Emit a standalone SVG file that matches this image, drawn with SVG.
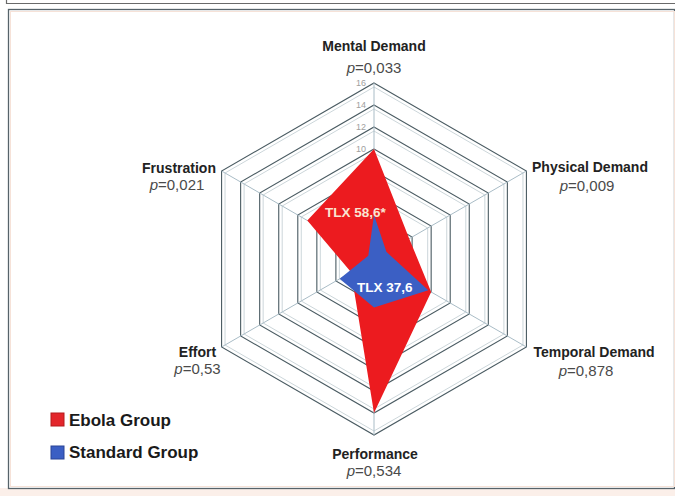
<svg xmlns="http://www.w3.org/2000/svg" width="675" height="496" viewBox="0 0 675 496">
<style>
.ring{fill:none;stroke:#4a5b62;stroke-width:1.1}
.ring2{fill:none;stroke:#ccd6da;stroke-width:1}
.spoke{stroke:#a9bcc6;stroke-width:1}
.lbl{font-family:"Liberation Sans",Arial,sans-serif;font-weight:bold;font-size:14px;fill:#222;text-anchor:middle}
.pv{font-family:"Liberation Sans",Arial,sans-serif;font-size:15px;fill:#4a4a4a;text-anchor:middle}
.tick{font-family:"Liberation Sans",Arial,sans-serif;font-size:9px;fill:#a0a0a0;text-anchor:end}
.leg{font-family:"Liberation Sans",Arial,sans-serif;font-weight:bold;font-size:17px;fill:#1a1a1a}
.tlx{font-family:"Liberation Sans",Arial,sans-serif;font-weight:bold;font-size:13.5px}
</style>
<rect x="0" y="0" width="675" height="496" fill="#ffffff"/>
<rect x="0" y="488" width="675" height="8" fill="#fbefe9"/>
<path d="M6.5,0 V3.5 H675" fill="none" stroke="#6a6a6a" stroke-width="1.2"/>
<rect x="8.5" y="9.5" width="666" height="479" fill="#ffffff" stroke="#56636a" stroke-width="1.3"/>
<rect x="10.5" y="11.5" width="664" height="475" fill="none" stroke="#f6e2d8" stroke-width="1"/>

<g id="grid">
<polygon class="ring2" points="374,87 522.96,173 522.96,345 374,431 225.04,345 225.04,173"/>
<polygon class="ring2" points="374,109 503.9,184 503.9,334 374,409 244.1,334 244.1,184"/>
<polygon class="ring2" points="374,131 484.85,195 484.85,323 374,387 263.15,323 263.15,195"/>
<polygon class="ring2" points="374,153 465.8,206 465.8,312 374,365 282.2,312 282.2,206"/>
<polygon class="ring2" points="374,175 446.74,217 446.74,301 374,343 301.26,301 301.26,217"/>
<polygon class="ring2" points="374,197 427.69,228 427.69,290 374,321 320.31,290 320.31,228"/>
<polygon class="ring2" points="374,219 408.64,239 408.64,279 374,299 339.36,279 339.36,239"/>
<polygon class="ring2" points="374,241 389.59,250 389.59,268 374,277 358.41,268 358.41,250"/>
<polygon class="ring" points="374,83 526.42,171 526.42,347 374,435 221.58,347 221.58,171"/>
<polygon class="ring" points="374,105 507.37,182 507.37,336 374,413 240.63,336 240.63,182"/>
<polygon class="ring" points="374,127 488.32,193 488.32,325 374,391 259.68,325 259.68,193"/>
<polygon class="ring" points="374,149 469.26,204 469.26,314 374,369 278.74,314 278.74,204"/>
<polygon class="ring" points="374,171 450.21,215 450.21,303 374,347 297.79,303 297.79,215"/>
<polygon class="ring" points="374,193 431.16,226 431.16,292 374,325 316.84,292 316.84,226"/>
<polygon class="ring" points="374,215 412.11,237 412.11,281 374,303 335.89,281 335.89,237"/>
<polygon class="ring" points="374,237 393.05,248 393.05,270 374,281 354.95,270 354.95,248"/>
<line class="spoke" x1="374" y1="259" x2="374" y2="83"/>
<line class="spoke" x1="374" y1="259" x2="526.42" y2="171"/>
<line class="spoke" x1="374" y1="259" x2="526.42" y2="347"/>
<line class="spoke" x1="374" y1="259" x2="374" y2="435"/>
<line class="spoke" x1="374" y1="259" x2="221.58" y2="347"/>
<line class="spoke" x1="374" y1="259" x2="221.58" y2="171"/>
<text class="tick" x="366" y="86">16</text>
<text class="tick" x="366" y="108">14</text>
<text class="tick" x="366" y="130">12</text>
<text class="tick" x="366" y="152">10</text>
</g>

<g id="ebola-series">
<polygon points="374,149 409.25,238.65 431.16,292 374,413 351.14,272.2 307.32,220.5" fill="#ec1b1f"/>
</g>
<g id="standard-series">
<polygon points="374,215 386.38,251.85 428.3,290.35 374,307.4 339.7,278.8 368.28,255.7" fill="#3b5fc4"/>
</g>

<g id="tlx-ebola"><text class="tlx" x="325" y="217" fill="#f9e4d2">TLX 58,6*</text></g>
<g id="tlx-standard"><text class="tlx" x="357" y="292" fill="#ffffff">TLX 37,6</text></g>

<g id="axis-mental"><text class="lbl" x="374" y="51">Mental Demand</text><text class="pv" x="374" y="73"><tspan font-style="italic">p</tspan>=0,033</text></g>
<g id="axis-physical"><text class="lbl" x="590" y="172">Physical Demand</text><text class="pv" x="587" y="191"><tspan font-style="italic">p</tspan>=0,009</text></g>
<g id="axis-temporal"><text class="lbl" x="594" y="357">Temporal Demand</text><text class="pv" x="586" y="376"><tspan font-style="italic">p</tspan>=0,878</text></g>
<g id="axis-performance"><text class="lbl" x="375" y="459">Performance</text><text class="pv" x="374" y="476"><tspan font-style="italic">p</tspan>=0,534</text></g>
<g id="axis-effort"><text class="lbl" x="197.5" y="357">Effort</text><text class="pv" x="197.5" y="374"><tspan font-style="italic">p</tspan>=0,53</text></g>
<g id="axis-frustration"><text class="lbl" x="179" y="173">Frustration</text><text class="pv" x="177" y="190"><tspan font-style="italic">p</tspan>=0,021</text></g>

<g id="legend">
<rect x="51" y="413" width="13" height="13" fill="#e3262b" stroke="#b51a1c" stroke-width="1"/>
<text class="leg" x="69" y="426">Ebola Group</text>
<rect x="51" y="446" width="13" height="13" fill="#3b5fc4" stroke="#2b4596" stroke-width="1"/>
<text class="leg" x="69" y="458">Standard Group</text>
</g>
</svg>
